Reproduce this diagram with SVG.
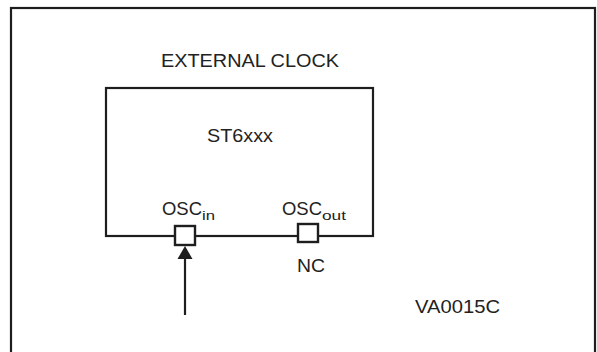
<svg xmlns="http://www.w3.org/2000/svg" width="597" height="352" viewBox="0 0 597 352">
<defs>
<style>
.ln{fill:none;stroke:#1e1e1e;stroke-width:2.2}
.pin{fill:#fff;stroke:#1e1e1e;stroke-width:2.4}
.t{font-family:"Liberation Sans",Arial,sans-serif;fill:#222;font-size:18.5px}
.s{font-family:"Liberation Sans",Arial,sans-serif;fill:#222;font-size:13.5px}
</style>
<marker id="ah" markerWidth="8" markerHeight="8" refX="7.5" refY="4" orient="auto" markerUnits="userSpaceOnUse" viewBox="0 0 8 8">
<path d="M0,0 L8,4 L0,8 Z" fill="#1e1e1e"/>
</marker>
</defs>
<rect x="0" y="0" width="597" height="352" fill="#fff"/>
<g id="frame"><rect class="ln" x="11" y="8" width="584" height="370"/></g>
<g id="title"><text class="t" x="250" y="67" text-anchor="middle" textLength="178" lengthAdjust="spacingAndGlyphs">EXTERNAL CLOCK</text></g>
<g id="chip">
<rect class="ln" x="106" y="88" width="267" height="148"/>
<text class="t" x="240" y="142" text-anchor="middle" textLength="66" lengthAdjust="spacingAndGlyphs">ST6xxx</text>
</g>
<g id="osc-in">
<rect class="pin" x="175" y="226" width="20" height="19"/>
<text class="t" x="162" y="215" textLength="40" lengthAdjust="spacingAndGlyphs">OSC</text>
<text class="s" x="202" y="220" textLength="13" lengthAdjust="spacingAndGlyphs">in</text>
</g>
<g id="osc-out">
<rect class="pin" x="298" y="224" width="20" height="18"/>
<text class="t" x="282" y="215" textLength="40" lengthAdjust="spacingAndGlyphs">OSC</text>
<text class="s" x="322" y="220" textLength="24" lengthAdjust="spacingAndGlyphs">out</text>
<text class="t" x="311" y="272" text-anchor="middle" textLength="28" lengthAdjust="spacingAndGlyphs">NC</text>
</g>
<g id="connectors">
<line x1="185" y1="315" x2="185" y2="258" class="ln"/>
<path d="M177.5,259 L185,246 L192.5,259 Z" fill="#1e1e1e"/>
</g>
<g id="ref"><text class="t" x="415" y="313" textLength="85" lengthAdjust="spacingAndGlyphs">VA0015C</text></g>
</svg>
